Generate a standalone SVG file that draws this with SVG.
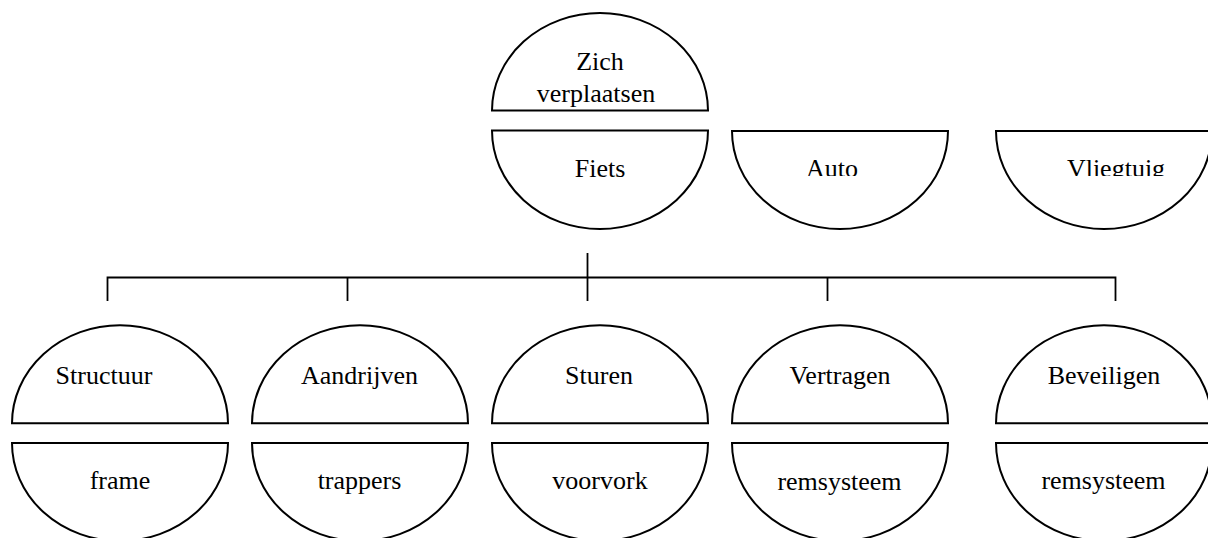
<svg xmlns="http://www.w3.org/2000/svg" width="1208" height="538" viewBox="0 0 1208 538">
  <style>
    .shape { fill: #ffffff; stroke: #000000; stroke-width: 2; }
    .wire { fill: none; stroke: #000000; stroke-width: 1.8; }
    .label { font-family: "Liberation Serif", "Times New Roman", serif; font-size: 26px; fill: #000000; text-anchor: middle; }
  </style>
  <defs>
    <!-- text boxes of the second-row items cut off their lower edge -->
    <clipPath id="clipRow1">
      <rect x="700" y="100" width="508" height="76"/>
    </clipPath>
  </defs>
  <rect width="1208" height="538" fill="#ffffff"/>

  <!-- connectors -->
  <g id="connectors">
    <path class="wire" d="M107.5,301 V277.5 H1115.5 V301"/>
    <path class="wire" d="M587.5,253 V301"/>
    <path class="wire" d="M347.5,277.5 V301"/>
    <path class="wire" d="M827.5,277.5 V301"/>
  </g>

  <!-- function / solution: top -->
  <g id="node-zich-verplaatsen">
    <path class="shape" d="M492,110.5 A108,97.5 0 0 1 708,110.5 Z"/>
    <text class="label" x="600" y="70">Zich</text>
    <text class="label" x="596" y="101.5">verplaatsen</text>
  </g>
  <g id="node-fiets">
    <path class="shape" d="M492,130.5 A108,98.5 0 0 0 708,130.5 Z"/>
    <text class="label" x="600" y="176.5">Fiets</text>
  </g>
  <g id="node-auto">
    <path class="shape" d="M732,131 A108,98 0 0 0 948,131 Z"/>
    <text class="label" x="832" y="177" clip-path="url(#clipRow1)">Auto</text>
  </g>
  <g id="node-vliegtuig">
    <path class="shape" d="M996,131 A108,98 0 0 0 1212,131 Z"/>
    <text class="label" x="1116" y="177" clip-path="url(#clipRow1)">Vliegtuig</text>
  </g>

  <!-- sub-functions -->
  <g id="node-structuur">
    <path class="shape" d="M12,423.3 A108,98 0 0 1 228,423.3 Z"/>
    <text class="label" x="104" y="384">Structuur</text>
    <path class="shape" d="M12,443 A108,98 0 0 0 228,443 Z"/>
    <text class="label" x="120" y="489">frame</text>
  </g>
  <g id="node-aandrijven">
    <path class="shape" d="M252,423.3 A108,98 0 0 1 468,423.3 Z"/>
    <text class="label" x="359.5" y="384">Aandrijven</text>
    <path class="shape" d="M252,443 A108,98 0 0 0 468,443 Z"/>
    <text class="label" x="359.5" y="489">trappers</text>
  </g>
  <g id="node-sturen">
    <path class="shape" d="M492,423.3 A108,98 0 0 1 708,423.3 Z"/>
    <text class="label" x="599" y="384">Sturen</text>
    <path class="shape" d="M492,443 A108,98 0 0 0 708,443 Z"/>
    <text class="label" x="600" y="489">voorvork</text>
  </g>
  <g id="node-vertragen">
    <path class="shape" d="M732,423.3 A108,98 0 0 1 948,423.3 Z"/>
    <text class="label" x="840" y="383.5">Vertragen</text>
    <path class="shape" d="M732,443 A108,98 0 0 0 948,443 Z"/>
    <text class="label" x="839.5" y="489.5">remsysteem</text>
  </g>
  <g id="node-beveiligen">
    <path class="shape" d="M996,423.3 A108,98 0 0 1 1212,423.3 Z"/>
    <text class="label" x="1104" y="383.5">Beveiligen</text>
    <path class="shape" d="M996,443 A108,98 0 0 0 1212,443 Z"/>
    <text class="label" x="1103.5" y="488.5">remsysteem</text>
  </g>
</svg>
